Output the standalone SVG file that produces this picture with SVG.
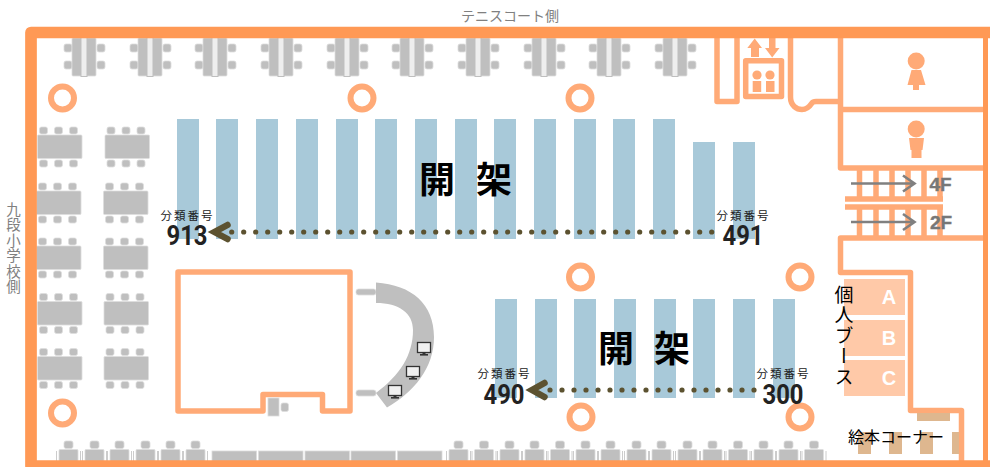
<svg xmlns="http://www.w3.org/2000/svg" width="990" height="467" viewBox="0 0 990 467">
<style>
text{font-family:"Noto Sans CJK JP","Noto Sans",sans-serif}
.wall{fill:none;stroke:#FF9955;stroke-width:11.7;stroke-linejoin:round}
.in{fill:none;stroke:#FFAA77;stroke-width:5.5;stroke-linejoin:round;stroke-linecap:butt}
.ic{fill:#FFAA77}
.shelf{fill:#A8C9D9}
.g{fill:#BFBFBF;stroke:#DDDDDD;stroke-width:.8}
.ring{fill:#fff;stroke:#FFAA77;stroke-width:6}
.booth{fill:#FFC9A8}
.bl{fill:#fff;font-family:"Liberation Sans",sans-serif;font-weight:700;font-size:20px;text-anchor:middle}
.wood{fill:#DEB78F}
.big{font-size:36px;font-weight:700;fill:#000;text-anchor:middle}
.cls{font-size:11.5px;fill:#222;letter-spacing:2px;text-anchor:middle}
.num{font-family:Roboto,"Liberation Sans",sans-serif;font-size:27px;font-weight:700;fill:#222;text-anchor:middle}
.fl{font-family:"Liberation Sans",sans-serif;font-size:19px;font-weight:700;fill:#777;stroke:#777;stroke-width:.4}
.dot{fill:none;stroke:#5C5230;stroke-width:5.2;stroke-linecap:round;stroke-dasharray:0 12}
.chev{fill:none;stroke:#5C5230;stroke-width:6.5;stroke-linecap:round;stroke-linejoin:miter}
.ga{fill:none;stroke:#808080;stroke-width:2.6}
</style>
<defs>
<g id="t4">
<rect class="g" x="-20" y="6" width="8" height="8" rx="2"/><rect class="g" x="-20" y="23" width="8" height="8" rx="2"/>
<rect class="g" x="13" y="6" width="8" height="8" rx="2"/><rect class="g" x="13" y="23" width="8" height="8" rx="2"/>
<rect class="g" x="-12" y="0" width="24" height="38" rx="1"/>
<rect x="-3" y="-.5" width="6" height="39" fill="#EEEEEE" stroke="#BFBFBF" stroke-width="1"/>
</g>
<g id="t6">
<rect class="g" x="2" y="-8" width="8" height="7" rx="2"/><rect class="g" x="17" y="-8" width="8" height="7" rx="2"/><rect class="g" x="32" y="-8" width="8" height="7" rx="2"/>
<rect class="g" x="0" y="0" width="44.5" height="23.5" rx="1"/>
<rect class="g" x="2" y="25" width="8" height="7" rx="2"/><rect class="g" x="17" y="25" width="8" height="7" rx="2"/><rect class="g" x="32" y="25" width="8" height="7" rx="2"/>
</g>
<g id="s">
<rect class="g" x="5" y="0" width="9" height="7.500" rx="2"/>
<rect class="g" x="0" y="8.500" width="19" height="12" rx="1"/>
<path d="M-2.500 10V20M21.500 10V20" stroke="#CCCCCC" stroke-width="1"/>
</g>
<g id="mon">
<rect x="0" y="0" width="13" height="10" fill="#F0F0F0" stroke="#333" stroke-width="1.300"/>
<rect x="5" y="10" width="3" height="2" fill="#333"/><rect x="2.500" y="11.500" width="8" height="1.600" fill="#333"/>
</g>
<rect id="sh" class="shelf" width="22" height="120"/>
<rect id="sl" class="shelf" width="22" height="99"/>
</defs>
<text x="510" y="20.500" font-size="14" fill="#808080" text-anchor="middle">テニスコート側</text>
<text x="13.500" y="202" font-size="14.500" fill="#808080" style="writing-mode:vertical-rl;letter-spacing:1px">九段小学校側</text>

<g id="shelves-upper">
<use href="#sh" x="177" y="119"/><use href="#sh" x="216" y="119"/><use href="#sh" x="256" y="119"/><use href="#sh" x="296" y="119"/><use href="#sh" x="336" y="119"/><use href="#sh" x="375" y="119"/><use href="#sh" x="415" y="119"/><use href="#sh" x="455" y="119"/><use href="#sh" x="494" y="119"/><use href="#sh" x="534" y="119"/><use href="#sh" x="574" y="119"/><use href="#sh" x="613" y="119"/><use href="#sh" x="653" y="119"/>
<rect class="shelf" x="693" y="142" width="22" height="97"/><rect class="shelf" x="733" y="142" width="22" height="97"/>
</g>
<g id="shelves-lower">
<use href="#sl" x="495" y="299"/><use href="#sl" x="535" y="299"/><use href="#sl" x="574" y="299"/><use href="#sl" x="614" y="299"/><use href="#sl" x="654" y="299"/><use href="#sl" x="693" y="299"/><use href="#sl" x="733" y="299"/><use href="#sl" x="773" y="299"/>
</g>

<g id="tables-top">
<use href="#t4" x="84" y="38"/><use href="#t4" x="150" y="38"/><use href="#t4" x="215" y="38"/><use href="#t4" x="281" y="38"/><use href="#t4" x="347" y="38"/><use href="#t4" x="412" y="38"/><use href="#t4" x="478" y="38"/><use href="#t4" x="544" y="38"/><use href="#t4" x="609" y="38"/><use href="#t4" x="675" y="38"/>
</g>
<g id="tables-left">
<use href="#t6" x="37.500" y="135"/><use href="#t6" x="105" y="135"/>
<use href="#t6" x="36.500" y="191"/><use href="#t6" x="103.500" y="191"/>
<use href="#t6" x="36.500" y="246"/><use href="#t6" x="103.500" y="246"/>
<use href="#t6" x="37.500" y="301.500"/><use href="#t6" x="104" y="301.500"/>
<use href="#t6" x="37.500" y="356.500"/><use href="#t6" x="104" y="356.500"/>
</g>
<g id="seats-bottom">
<use href="#s" x="59" y="441"/><use href="#s" x="85" y="441"/><use href="#s" x="110" y="441"/><use href="#s" x="136" y="441"/><use href="#s" x="161" y="441"/><use href="#s" x="186" y="441"/>
<rect class="g" x="212" y="451" width="44.500" height="11"/><rect class="g" x="258.500" y="451" width="44.500" height="11"/><rect class="g" x="305" y="451" width="44.500" height="11"/><rect class="g" x="351" y="451" width="44.500" height="11"/><rect class="g" x="397.500" y="451" width="44.500" height="11"/>
<use href="#s" x="449" y="441"/><use href="#s" x="474.500" y="441"/><use href="#s" x="500" y="441"/><use href="#s" x="525" y="441"/><use href="#s" x="550.500" y="441"/><use href="#s" x="576" y="441"/><use href="#s" x="601" y="441"/><use href="#s" x="627" y="441"/><use href="#s" x="652" y="441"/><use href="#s" x="678" y="441"/><use href="#s" x="703" y="441"/><use href="#s" x="728.500" y="441"/><use href="#s" x="754" y="441"/><use href="#s" x="779" y="441"/><use href="#s" x="804.500" y="441"/>
</g>

<g id="pillars">
<circle class="ring" cx="62.500" cy="98" r="11.500"/><circle class="ring" cx="362" cy="98" r="11.500"/><circle class="ring" cx="580" cy="98" r="11.500"/><circle class="ring" cx="580.500" cy="277" r="11.500"/><circle class="ring" cx="800" cy="277" r="11.500"/><circle class="ring" cx="62.500" cy="413" r="11.500"/><circle class="ring" cx="581" cy="417" r="11.500"/><circle class="ring" cx="800" cy="417" r="11.500"/>
</g>

<g id="office">
<path class="in" d="M350 272H178V411H263V394.500H322.500V411H350Z"/>
<rect class="g" x="268" y="398" width="11" height="18"/>
<rect class="g" x="281" y="403" width="7.500" height="8.500" rx="2"/>
</g>
<g id="counter">
<rect class="g" x="356" y="289" width="20" height="6" rx="2.500"/>
<rect class="g" x="356" y="390" width="20" height="6" rx="2.500"/>
<path d="M376 282.500C412 285 434 304 434 337C434 368 414 392 387 407.500L376 393C400 375 413 355 413 330C413 313 399 303 376 303Z" fill="#BFBFBF"/>
<use href="#mon" x="417.500" y="342.500"/><use href="#mon" x="406.500" y="366.500"/><use href="#mon" x="388.500" y="385.500"/>
</g>

<g id="elevator">
<path class="in" d="M717 38V101.500H737V38"/>
<rect class="in" x="745.700" y="60.700" width="35.800" height="35.800"/>
<path class="ic" d="M754.700 38.500L762 48H759V57H751V48H747.300Z"/>
<path class="ic" d="M769 38H775.500V48H779.500L772.200 57.500L765 48H769Z"/>
<circle class="ic" cx="757" cy="75" r="4.600"/><circle class="ic" cx="770" cy="75" r="4.600"/>
<rect class="ic" x="752.700" y="81" width="8.500" height="11"/><rect class="ic" x="766" y="81" width="8.500" height="11"/>
</g>
<g id="corridor">
<path class="in" d="M790.500 38V97C790.500 106 797 109.500 802 109.500C807 109.500 810 106 812 103C813 101.500 814 101.500 816 101.500H840.500"/>
<path class="in" d="M840.500 38V168H986M840.500 109.500H986"/>
</g>
<g id="toilet-women">
<circle class="ic" cx="916.200" cy="61" r="8.500"/>
<path class="ic" d="M911.500 70H921L925.500 85H919V90H913V85H907.500Z"/>
</g>
<g id="toilet-men">
<circle class="ic" cx="916.200" cy="129" r="8.500"/>
<path class="ic" d="M909 138H924L922.500 150H921.500V158H911.500V150H910.500Z"/>
</g>
<g id="stairs">
<path class="in" d="M859.500 170V199M876 170V199M892 170V199M908 170V199M924 170V199M940 170V199"/>
<path class="in" d="M845 199H943M845 207H943"/>
<path class="in" d="M859.500 207V238M876 207V238M892 207V238M908 207V238M924 207V238M940 207V238"/>
<path class="in" d="M986 238H840.500V272.500H910.500V410.500H961.500V461"/>
<path class="ga" d="M851 183.500H914M903 175.500L914.500 183.500L903 191.500"/>
<path class="ga" d="M851 222H914M903 214L914.500 222L903 230"/>
<text class="fl" x="929.500" y="190.500">4F</text>
<text class="fl" x="930" y="229">2F</text>
</g>
<g id="booths">
<rect class="booth" x="844" y="279" width="61" height="36"/>
<rect class="booth" x="844" y="320" width="61" height="36"/>
<rect class="booth" x="844" y="360" width="61" height="36"/>
<text class="bl" x="889" y="304">A</text><text class="bl" x="889" y="345">B</text><text class="bl" x="889" y="385">C</text>
</g>
<g id="picture-book-corner">
<rect class="wood" x="917" y="413" width="33" height="8"/>
<rect class="wood" x="858" y="432" width="13" height="22"/><rect class="wood" x="889" y="432" width="13" height="22"/><rect class="wood" x="920" y="432" width="13" height="22"/><rect class="wood" x="952" y="432" width="7" height="22"/>
</g>
<path id="outer-wall" class="wall" d="M996 32.500H31V466H996"/>
<path d="M985.500 32V466" fill="none" stroke="#FF9955" stroke-width="5"/>

<g id="connectors">
<path class="dot" d="M231.700 232H716"/>
<path class="chev" d="M227.500 225L214.500 232L227.500 239"/>
<path class="dot" d="M550 390H755"/>
<path class="chev" d="M544.500 383L532 390L544.500 397"/>
</g>
<g id="labels">
<text class="big" x="437" y="193">開</text><text class="big" x="494" y="193">架</text>
<text class="big" x="616" y="362">開</text><text class="big" x="672" y="362">架</text>
<text class="cls" x="187.500" y="219.500">分類番号</text><text class="num" x="187" y="244.500" textLength="41" lengthAdjust="spacingAndGlyphs">913</text>
<text class="cls" x="743.500" y="219.500">分類番号</text><text class="num" x="743" y="244.500" textLength="41" lengthAdjust="spacingAndGlyphs">491</text>
<text class="cls" x="504.500" y="377.500">分類番号</text><text class="num" x="504" y="403.500" textLength="41" lengthAdjust="spacingAndGlyphs">490</text>
<text class="cls" x="783.500" y="377.500">分類番号</text><text class="num" x="783" y="403.500" textLength="41" lengthAdjust="spacingAndGlyphs">300</text>
<text x="844" y="285" font-size="19" fill="#000" style="writing-mode:vertical-rl;letter-spacing:1.500px">個人ブース</text>
<text x="848" y="443" font-size="16" fill="#000">絵本コーナー</text>
</g>
</svg>
